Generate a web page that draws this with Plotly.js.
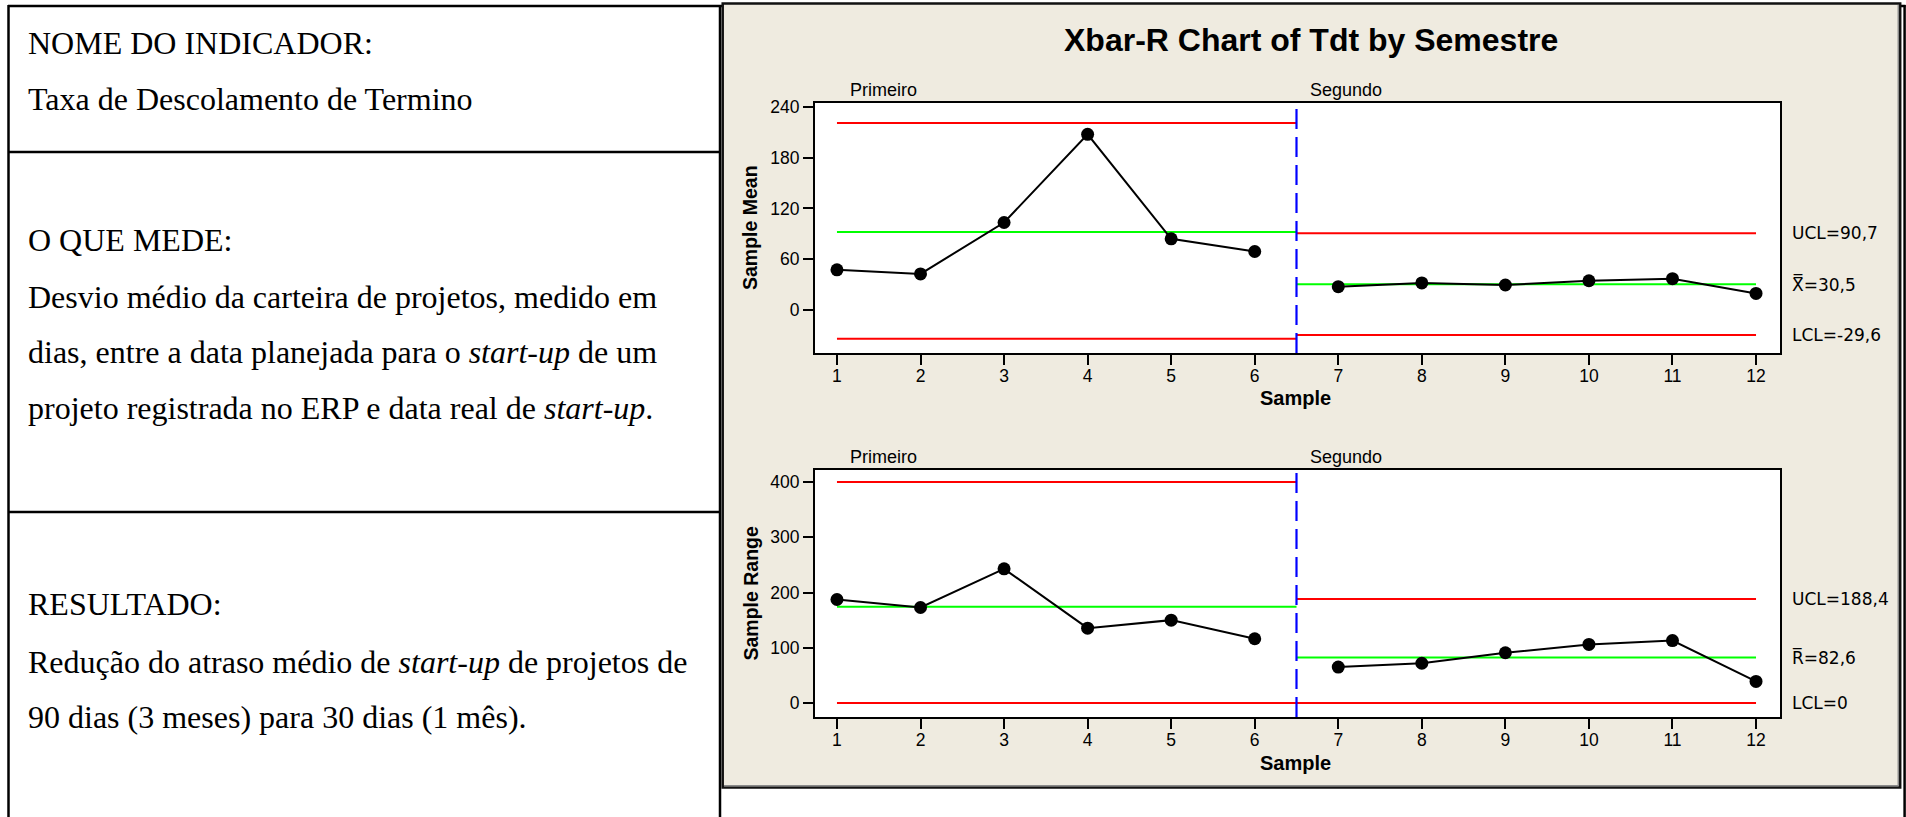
<!DOCTYPE html>
<html>
<head>
<meta charset="utf-8">
<script src="https://cdn.plot.ly/plotly-3.0.1.min.js"></script>
<style>
html,body{margin:0;padding:0;background:#ffffff;overflow:hidden;}
#chart{width:1906px;height:817px;}
</style>
</head>
<body>
<div id="chart"></div>
<script>
// ---------------- data ----------------
const samples = [1, 2, 3, 4, 5, 6, 7, 8, 9, 10, 11, 12];
const phase1Samples = [1, 2, 3, 4, 5, 6];
const phase2Samples = [7, 8, 9, 10, 11, 12];
const phaseNames = ['Primeiro', 'Segundo'];
const phaseStart = [1, 6.5];
const phaseEnd = [6.5, 12];

const xbarPhase1 = [47.4, 42.6, 103.4, 207.7, 84.1, 69.1];
const xbarPhase2 = [27.5, 32.0, 29.5, 34.5, 37.0, 19.5];
const rangePhase1 = [187.3, 172.9, 242.8, 135.5, 150.0, 116.3];
const rangePhase2 = [65.0, 72.0, 91.0, 106.0, 113.0, 39.0];

const xbarUCL = [221.1, 90.7];
const xbarCenter = [92.2, 30.5];
const xbarLCL = [-34.0, -29.6];
const rangeUCL = [400.0, 188.4];
const rangeCenter = [174.0, 82.6];
const rangeLCL = [0, 0];

const xbarTicks = [0, 60, 120, 180, 240];
const rangeTicks = [0, 100, 200, 300, 400];
const xbarLabels = ['UCL=90,7', 'X\u033F=30,5', 'LCL=-29,6'];
const rangeLabels = ['UCL=188,4', 'R\u0305=82,6', 'LCL=0'];

const leftLines = [
  'NOME DO INDICADOR:',
  'Taxa de Descolamento de Termino',
  'O QUE MEDE:',
  'Desvio médio da carteira de projetos, medido em',
  'dias, entre a data planejada para o <i>start-up</i> de um',
  'projeto registrada no ERP e data real de <i>start-up</i>.',
  'RESULTADO:',
  'Redução do atraso médio de <i>start-up</i> de projetos de',
  '90 dias (3 meses) para 30 dias (1 mês).'
];
const chartTitle = 'Xbar-R Chart of Tdt by Semestre';

// ---------------- layout helpers ----------------
const W = 1906, H = 817;
const px = x => x / W;
const py = y => 1 - y / H;
const leftLineY = [43, 99, 240, 297, 352, 408, 604, 662, 717];

const RED = '#ff0000', GREEN = '#00ff00', BLUE = '#0000ff';
const BEIGE = 'rgb(239,235,224)';
const SANS = 'Liberation Sans, Arial, sans-serif';
const SERIF = 'Liberation Serif, Times New Roman, serif';

const traces = [];
function limitTraces(xa, ya, ucl, cen, lcl) {
  for (let i = 0; i < 2; i++) {
    const xs = [phaseStart[i], phaseEnd[i]];
    [[ucl[i], RED], [cen[i], GREEN], [lcl[i], RED]].forEach(([v, c]) => {
      traces.push({type: 'scatter', mode: 'lines', x: xs, y: [v, v], xaxis: xa, yaxis: ya,
        line: {color: c, width: 2}, hoverinfo: 'skip'});
    });
  }
}
function dataTraces(xa, ya, y1, y2) {
  [[phase1Samples, y1], [phase2Samples, y2]].forEach(([xs, ys]) => {
    traces.push({type: 'scatter', mode: 'lines+markers', x: xs, y: ys, xaxis: xa, yaxis: ya,
      line: {color: '#000', width: 2}, marker: {color: '#000', size: 13}, hoverinfo: 'skip'});
  });
}
limitTraces('x', 'y', xbarUCL, xbarCenter, xbarLCL);
dataTraces('x', 'y', xbarPhase1, xbarPhase2);
limitTraces('x2', 'y2', rangeUCL, rangeCenter, rangeLCL);
dataTraces('x2', 'y2', rangePhase1, rangePhase2);

const axisCommon = {
  showline: true, linewidth: 2, linecolor: '#000', mirror: true,
  ticks: 'outside', ticklen: 10, tickwidth: 2, tickcolor: '#000',
  showgrid: false, zeroline: false, fixedrange: true,
  tickfont: {family: SANS, size: 17.5, color: '#000'}
};
const xDomain = [px(815), px(1780)];
const xRange = [0.737, 12.287];

const shapes = [];
function pline(x0, y0, x1, y1, w, c, layer) {
  shapes.push({type: 'line', xref: 'paper', yref: 'paper', x0: px(x0), y0: py(y0), x1: px(x1), y1: py(y1),
    line: {color: c || '#000', width: w || 2.5}, layer: layer || 'below'});
}
// outer document table
pline(8, 6, 1905.5, 6);
pline(8.5, 5, 8.5, 817);
pline(720, 5, 720, 817);
pline(1904.6, 5, 1904.6, 817);
pline(8.5, 152, 720, 152);
pline(8.5, 512, 720, 512);
// beige chart panel
shapes.push({type: 'rect', xref: 'paper', yref: 'paper', x0: px(722.7), x1: px(1900.2), y0: py(3.5), y1: py(787.5),
  fillcolor: BEIGE, line: {color: '#111', width: 2.5}, layer: 'below'});
pline(1898.3, 5, 1898.3, 786, 1.5, '#8a8a8a');
pline(724, 785.8, 1898.3, 785.8, 1.5, '#8a8a8a');
// white plotting areas and phase separators
[['x', 'y'], ['x2', 'y2']].forEach(([xa, ya]) => {
  shapes.push({type: 'rect', xref: xa + ' domain', yref: ya + ' domain', x0: 0, x1: 1, y0: 0, y1: 1,
    fillcolor: '#ffffff', line: {width: 0}, layer: 'below'});
  shapes.push({type: 'line', xref: xa, yref: ya + ' domain', x0: phaseEnd[0], x1: phaseEnd[0], y0: 0, y1: 1,
    line: {color: BLUE, width: 2.2, dash: '20px,8px'}, layer: 'above'});
});

const annotations = [];
leftLines.forEach((t, i) => {
  annotations.push({xref: 'paper', yref: 'paper', x: px(26), y: py(leftLineY[i]), xanchor: 'left', yanchor: 'middle',
    text: t, showarrow: false, font: {family: SERIF, size: 32, color: '#000'}});
});
annotations.push({xref: 'paper', yref: 'paper', x: px(1311), y: py(40), xanchor: 'center', yanchor: 'middle',
  text: '<b>' + chartTitle + '</b>', showarrow: false, font: {family: SANS, size: 32, color: '#000'}});
[['y', 'Sample Mean', 398], ['y2', 'Sample Range', 763]].forEach(([ya, t, sy]) => {
  annotations.push({xref: 'paper', yref: ya + ' domain', x: px(750), y: 0.5, xanchor: 'center', yanchor: 'middle',
    text: '<b>' + t + '</b>', textangle: -90, showarrow: false, font: {family: SANS, size: 19.5, color: '#000'}});
  annotations.push({xref: 'paper', yref: 'paper', x: px(1295), y: py(sy), xanchor: 'center', yanchor: 'middle',
    text: '<b>Sample</b>', showarrow: false, font: {family: SANS, size: 20, color: '#000'}});
});
const phaseLabelX = [1.13, 6.637];
['x', 'x2'].forEach((xa, k) => {
  const ya = k === 0 ? 'y' : 'y2';
  phaseNames.forEach((n, i) => {
    annotations.push({xref: xa, yref: ya + ' domain', x: phaseLabelX[i], y: 1, xanchor: 'left', yanchor: 'bottom',
      yshift: 1, text: n, showarrow: false, font: {family: SANS, size: 18, color: '#000'}});
  });
});
const xbarLabelY = [xbarUCL[1], xbarCenter[1], xbarLCL[1]];
const rangeLabelY = [rangeUCL[1], rangeCenter[1], rangeLCL[1]];
[['y', xbarLabels, xbarLabelY], ['y2', rangeLabels, rangeLabelY]].forEach(([ya, labels, ys]) => {
  labels.forEach((t, i) => {
    annotations.push({xref: 'paper', yref: ya, x: px(1790), y: ys[i], xanchor: 'left', yanchor: 'middle',
      text: t, showarrow: false, font: {family: 'DejaVu Sans, ' + SANS, size: 17, color: '#000'}});
  });
});

const layout = {
  width: W, height: H,
  margin: {l: 0, r: 0, t: 0, b: 0},
  paper_bgcolor: '#ffffff', plot_bgcolor: 'rgba(0,0,0,0)',
  showlegend: false,
  font: {family: SANS, size: 17, color: '#000'},
  xaxis: Object.assign({}, axisCommon, {domain: xDomain, range: xRange, anchor: 'y', tickvals: samples, ticklabelstandoff: -4}),
  yaxis: Object.assign({}, axisCommon, {domain: [py(353), py(103)], range: [-50.9, 244.7], anchor: 'x', tickvals: xbarTicks}),
  xaxis2: Object.assign({}, axisCommon, {domain: xDomain, range: xRange, anchor: 'y2', tickvals: samples, ticklabelstandoff: -4}),
  yaxis2: Object.assign({}, axisCommon, {domain: [py(717), py(470)], range: [-25.3, 421.7], anchor: 'x2', tickvals: rangeTicks}),
  shapes: shapes,
  annotations: annotations
};

Plotly.newPlot('chart', traces, layout, {staticPlot: true, displayModeBar: false});
</script>
</body>
</html>
